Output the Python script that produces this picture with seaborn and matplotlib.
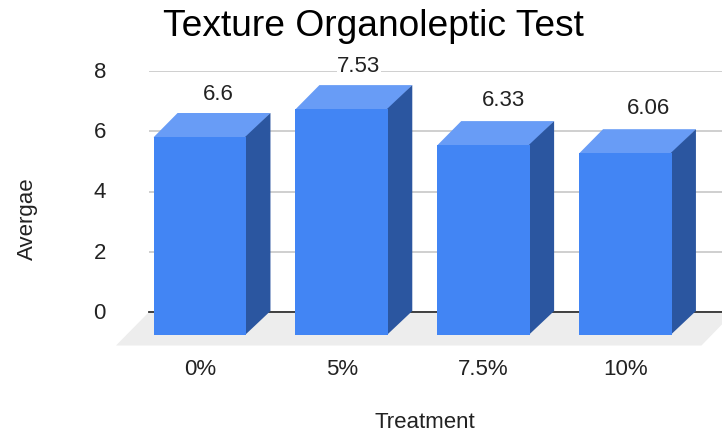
"""Texture organoleptic test, 3D-look bar chart."""

import matplotlib.pyplot as plt
import pandas as pd
import seaborn as sns
from matplotlib.patches import Polygon
from matplotlib.transforms import ScaledTranslation

treatments = ["0%", "5%", "7.5%", "10%"]
averages = [6.6, 7.53, 6.33, 6.06]
value_labels = ["6.6", "7.53", "6.33", "6.06"]
y_ticks = [0, 2, 4, 6, 8]

W, H = 722, 434
DEPTH = 24  # px, bar depth
FRONT_COLOR = "#4285F4"
TOP_COLOR = "#689CF6"
SIDE_COLOR = "#2B56A0"
TEXT_COLOR = "#222222"
LABEL_SHIFT = [18, 17, 20, 23]  # px, label offset from the bar centre
LABEL_RISE = [19, 19, 21, 21]  # px, label offset above the top face


def axes_rect(left, top, right, bottom):
    return [left / W, 1 - bottom / H, (right - left) / W, (bottom - top) / H]


def fig_xy(x, y):
    return x / W, 1 - y / H


sns.set_theme(style="white")
plt.rcParams["font.family"] = ["Liberation Sans", "DejaVu Sans"]
plt.rcParams["text.color"] = TEXT_COLOR

df = pd.DataFrame({"treatment": treatments, "average": averages})
fig = plt.figure(figsize=(W / 100, H / 100), dpi=100)

# ── Back wall: gridlines, y ticks, floor ──────────────────────────────────
ax_back = fig.add_axes(axes_rect(149, 71, 722, 312), zorder=0)
ax_back.set_ylim(0, 8)
ax_back.set_xticks([])
ax_back.set_yticks(y_ticks)
ax_back.tick_params(axis="y", length=0, pad=31, labelsize=16, labelcolor=TEXT_COLOR)
nudge = ScaledTranslation(0, 1 / 100, fig.dpi_scale_trans)
for tick_label in ax_back.get_yticklabels():
    tick_label.set_transform(tick_label.get_transform() + nudge)
ax_back.grid(axis="y", color="#CCCCCC", linewidth=1.3)
ax_back.set_axisbelow(True)
sns.despine(ax=ax_back, left=True, bottom=False, top=True, right=True)
ax_back.spines["bottom"].set_color("#333333")
ax_back.spines["bottom"].set_linewidth(1.3)
ax_back.spines["bottom"].set_zorder(5)
ax_back.set_ylabel("Avergae", fontsize=16, color=TEXT_COLOR)
ax_back.yaxis.set_label_coords(38 / W, 1 - 219 / H, transform=fig.transFigure)

floor = Polygon(
    [fig_xy(116, 345.5), fig_xy(149, 312), fig_xy(W + 12, 312), fig_xy(701.5, 345.5)],
    closed=True,
    transform=fig.transFigure,
    facecolor="#EDEDED",
    edgecolor="none",
    clip_on=False,
    zorder=1,
)
ax_back.add_patch(floor)

# ── Front plane: bars with their top and side faces ───────────────────────
ax = fig.add_axes(axes_rect(129.1, 95, 696.4, 335), zorder=1)
ax.patch.set_alpha(0)
sns.barplot(
    data=df,
    x="treatment",
    y="average",
    color=FRONT_COLOR,
    saturation=1,
    width=0.655,
    linewidth=0,
    edgecolor="none",
    ax=ax,
    zorder=4,
)
ax.set_xlim(-0.5, 3.5)
ax.set_ylim(0, 8)
ax.set_yticks([])
ax.set_ylabel("")
ax.tick_params(axis="x", length=0, pad=17, labelsize=16, labelcolor=TEXT_COLOR)
sns.despine(ax=ax, left=True, bottom=True)

dx = DEPTH / (567.3 / 4)
dy = DEPTH / (240 / 8)
seam = 0.01  # faces run under the bar so no gap shows at the shared edge
for bar, label, shift, rise in zip(ax.patches, value_labels, LABEL_SHIFT, LABEL_RISE):
    x0, x1 = bar.get_x(), bar.get_x() + bar.get_width()
    h = bar.get_height()
    ax.fill(
        [x0, x1, x1 + dx, x0 + dx], [h - seam, h - seam, h + dy, h + dy],
        color=TOP_COLOR, linewidth=0, clip_on=False, zorder=3,
    )
    ax.fill(
        [x1 - seam, x1 + dx, x1 + dx, x1 - seam], [0, dy, h + dy, h],
        color=SIDE_COLOR, linewidth=0, clip_on=False, zorder=3,
    )
    ax.annotate(
        label,
        xy=((x0 + x1) / 2, h + dy),
        xytext=(shift * 0.72, rise * 0.72),
        textcoords="offset points",
        ha="center",
        va="center",
        fontsize=16,
        color=TEXT_COLOR,
        bbox={"facecolor": "white", "edgecolor": "none", "pad": 0.5},
        zorder=2,
        annotation_clip=False,
    )

ax.set_xlabel("Treatment", fontsize=16, color=TEXT_COLOR)
ax.xaxis.set_label_coords(425 / W, 1 - 423 / H, transform=fig.transFigure)
ax.xaxis.label.set_verticalalignment("center")

fig.suptitle(
    "Texture Organoleptic Test",
    x=373 / W,
    y=1 - 26 / H,
    va="center",
    fontsize=26.7,
    color="black",
)

fig.savefig("out.png", dpi=100)
plt.close(fig)
